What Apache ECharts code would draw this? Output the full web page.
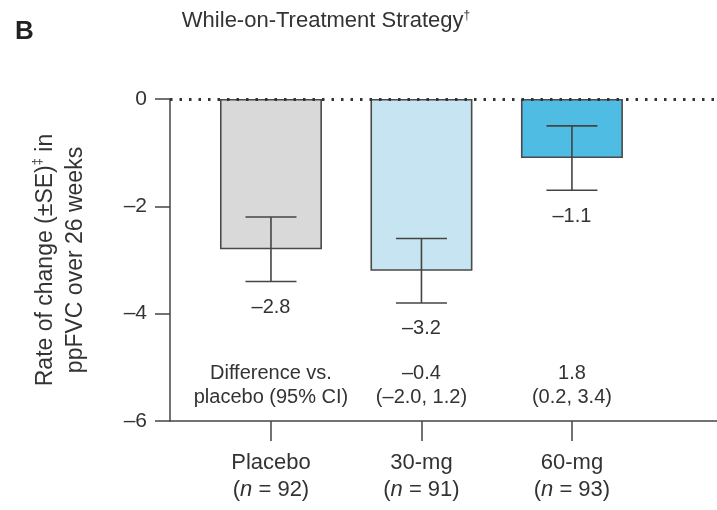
<!DOCTYPE html>
<html><head><meta charset="utf-8">
<script src="https://cdn.jsdelivr.net/npm/echarts@6/dist/echarts.min.js"></script>
<style>html,body{margin:0;padding:0;background:#fff}#c{width:717px;height:510px}</style>
</head><body><div id="c"></div>
<script>
const categories = ['Placebo', '30-mg', '60-mg'];
const groupSizes = [92, 91, 93];
const means = [-2.8, -3.2, -1.1];
const seValues = [0.6, 0.6, 0.6];
const meanLabels = ['\u20132.8', '\u20133.2', '\u20131.1'];
const diffLabels = ['Difference vs.\nplacebo (95% CI)', '\u20130.4\n(\u20132.0, 1.2)', '1.8\n(0.2, 3.4)'];
const barColors = ['#d9d9d9', '#c6e4f1', '#4fbde3'];

const FONT = 'Liberation Sans, Arial, sans-serif';
const TXT = '#333';
const LINE = '#444';

const chart = echarts.init(document.getElementById('c'));
const xs = categories.map((c, i) => i + 1);

chart.setOption({
  animation: false,
  backgroundColor: '#fff',
  title: [
    { text: 'B', left: 15, top: 19, padding: 0, textStyle: { fontFamily: FONT, fontSize: 26, fontWeight: 'bold', color: '#222' } },
    { text: 'While-on-Treatment Strategy{s|\u2020}', left: 326, textAlign: 'center', top: 10, padding: 0,
      textStyle: { fontFamily: FONT, fontSize: 22, fontWeight: 'normal', color: TXT,
        rich: { s: { fontFamily: FONT, fontSize: 12, color: TXT, verticalAlign: 'top' } } } }
  ],
  grid: { left: 170, right: 0, top: 99, bottom: 89 },
  xAxis: {
    type: 'value', min: 0.329, max: 3.964,
    axisLine: { show: true, onZero: false, lineStyle: { color: LINE, width: 1.5 } },
    axisTick: { show: true, customValues: xs, length: 20, lineStyle: { color: LINE, width: 1.5 } },
    axisLabel: {
      customValues: xs, margin: 28, fontFamily: FONT, fontSize: 22, color: TXT, lineHeight: 27,
      formatter: v => { const i = Math.round(v) - 1; return categories[i] + '\n({i|n} = ' + groupSizes[i] + ')'; },
      rich: { i: { fontFamily: FONT, fontSize: 22, fontStyle: 'italic', color: TXT, lineHeight: 27 } }
    },
    splitLine: { show: false }
  },
  yAxis: {
    type: 'value', min: -6, max: 0, interval: 2,
    axisLine: { show: true, lineStyle: { color: LINE, width: 1.5 } },
    axisTick: { show: true, length: 15, lineStyle: { color: LINE, width: 1.5 } },
    axisLabel: { margin: 23, fontFamily: FONT, fontSize: 21, color: TXT, formatter: v => String(v).replace('-', '\u2013') },
    splitLine: { show: false },
    name: 'Rate of change (\u00b1SE){s|\u2021} in\nppFVC over 26 weeks',
    nameLocation: 'middle', nameGap: 79, nameRotate: 90,
    nameTextStyle: { fontFamily: FONT, fontSize: 23, lineHeight: 30, color: TXT,
      rich: { s: { fontFamily: FONT, fontSize: 13, color: TXT, verticalAlign: 'top' } } }
  },
  series: [
    {
      type: 'bar', barWidth: 102,
      data: means.map((m, i) => ({ value: [xs[i], m], itemStyle: { color: barColors[i], borderColor: '#4a4a4a', borderWidth: 1.6 } })),
      markLine: {
        silent: true, symbol: 'none', label: { show: false },
        lineStyle: { type: [2.5, 7], color: '#333', width: 2.8 },
        data: [{ yAxis: 0 }]
      }
    },
    {
      type: 'custom',
      data: means.map((m, i) => [xs[i], m - seValues[i], m + seValues[i]]),
      encode: { x: 0, y: [1, 2] },
      z: 5,
      renderItem: (params, api) => {
        const x = api.value(0), lo = api.value(1), hi = api.value(2);
        const pLo = api.coord([x, lo]), pHi = api.coord([x, hi]);
        const cap = 25.5;
        const st = { stroke: LINE, lineWidth: 1.6 };
        return { type: 'group', children: [
          { type: 'line', shape: { x1: pLo[0], y1: pLo[1], x2: pHi[0], y2: pHi[1] }, style: st },
          { type: 'line', shape: { x1: pLo[0] - cap, y1: pLo[1], x2: pLo[0] + cap, y2: pLo[1] }, style: st },
          { type: 'line', shape: { x1: pHi[0] - cap, y1: pHi[1], x2: pHi[0] + cap, y2: pHi[1] }, style: st },
          { type: 'text', x: pLo[0], y: pLo[1] + 26,
            style: { text: meanLabels[params.dataIndex], align: 'center', verticalAlign: 'middle', fontFamily: FONT, fontSize: 20, fill: TXT } }
        ] };
      }
    },
    {
      type: 'custom',
      data: xs.map(x => [x, -6]),
      encode: { x: 0, y: 1 },
      z: 5,
      renderItem: (params, api) => {
        const p = api.coord([api.value(0), api.value(1)]);
        return { type: 'text', x: p[0], y: p[1] - 36,
          style: { text: diffLabels[params.dataIndex], align: 'center', verticalAlign: 'middle', fontFamily: FONT, fontSize: 20, lineHeight: 24, fill: TXT } };
      }
    }
  ]
});
</script></body></html>
